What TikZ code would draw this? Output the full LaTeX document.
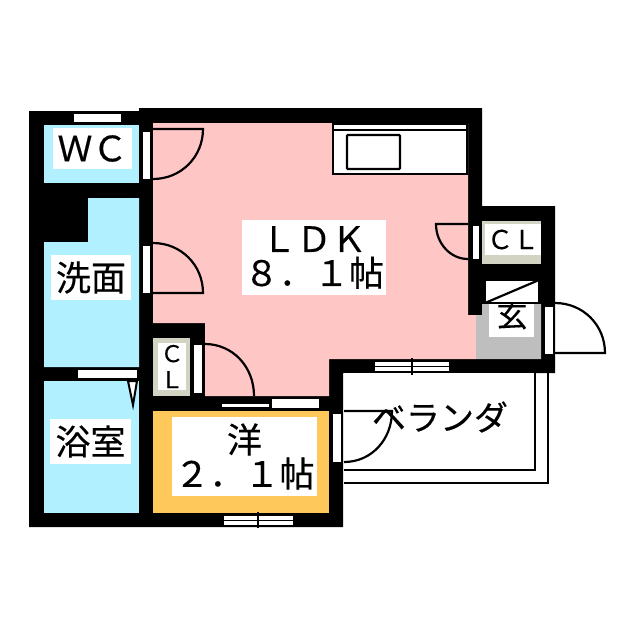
\documentclass[tikz,border=0pt]{standalone}
\usepackage{fontspec}
\setmainfont[FakeBold=0.35]{Noto Sans CJK JP}
\definecolor{ldkpink}{HTML}{FFC6C6}
\definecolor{wetblue}{HTML}{B0F0FF}
\definecolor{yoyellow}{HTML}{FFC85A}
\definecolor{genkangrey}{HTML}{BEBEBE}
\definecolor{clbeige}{HTML}{D3D3C3}
\tikzset{
	roomlabel/.style={fill=white,inner sep=0pt,align=center,font=\fontsize{35}{34}\selectfont},
	smalllabel/.style={fill=white,inner sep=0pt,align=center,font=\fontsize{23}{26}\selectfont},
	plainline/.style={draw=black,line width=2.2pt},
	leaf/.style={fill=white},
}
\begin{document}
\begin{tikzpicture}[x=1pt,y=-1pt]

	\useasboundingbox (0,0) rectangle (640,640);
	\fill[white] (0,0) rectangle (640,640);

	\fill[black] (29,111) -- (139,111) -- (139,108) -- (482,108) -- (482,206) -- (555,206) -- (555,373) -- (343,373) -- (343,527) -- (29,527) -- cycle;

	\fill[ldkpink] (153,123) -- (468,123) -- (468,315) -- (476,315) -- (476,359) -- (329,359) -- (329,396) -- (205,396) -- (205,323) -- (153,323) -- cycle;
	\fill[wetblue] (44,125) rectangle (139,183);
	\fill[wetblue] (88,198) -- (139,198) -- (139,367) -- (44,367) -- (44,242) -- (88,242) -- cycle;
	\fill[wetblue] (44,381) rectangle (139,513);
	\fill[yoyellow] (153,411) rectangle (329,513);
	\fill[genkangrey] (482,304) -- (541,304) -- (541,359) -- (476,359) -- (476,315) -- (482,315) -- cycle;
	\fill[clbeige] (153,338) rectangle (190,396);
	\fill[clbeige] (482,221) rectangle (541,264);
	\fill[white] (344,373) rectangle (535,470);
	\fill[white] (489,304) rectangle (534,337);

	\node[roomlabel,minimum width=79pt,minimum height=41pt] (wc) at (92.5,148.5) {ＷＣ};
	\node[roomlabel,minimum width=80pt,minimum height=45pt] (senmen) at (91,277.5) {洗面};
	\node[roomlabel,minimum width=81pt,minimum height=45pt] (yokushitsu) at (90.5,441.5) {浴室};
	\node[roomlabel,minimum width=144pt,minimum height=75pt] (ldk) at (314,257.5) {ＬＤＫ\\８．１帖};
	\node[roomlabel,minimum width=145pt,minimum height=79pt] (yo) at (244.5,456.5) {洋\\２．１帖};
	\node[smalllabel,minimum width=28pt,minimum height=47pt] (clwest) at (172,366.5) {Ｃ\\Ｌ};
	\node[smalllabel,font=\fontsize{26}{27}\selectfont,minimum width=56pt,minimum height=31pt] (cleast) at (513,239.5) {ＣＬ};
	\node[font=\fontsize{31}{32}\selectfont,inner sep=0pt] (genkan) at (512,315) {玄};
	\node[font=\fontsize{34}{35}\selectfont,inner sep=0pt] (beranda) at (440,417) {ベランダ};

	\fill[white] (74,114) rectangle (121,122);
	\fill[white] (78,370) rectangle (137,378);
	\filldraw[fill=white,draw=black,line width=2pt] (128,381) -- (137,381) -- (133,405) -- cycle;
	\fill[white] (222,404) rectangle (269,407);
	\fill[white] (272,399) rectangle (319,408);

	\filldraw[leaf] (142,131) rectangle (150,179);
	\filldraw[leaf] (142,245) rectangle (150,293);
	\filldraw[leaf] (193,344) rectangle (202,393);
	\filldraw[leaf] (332,413) rectangle (341,462);
	\filldraw[leaf] (472,225) rectangle (479,259);
	\filldraw[leaf] (544,306) rectangle (553,354);

	\draw[plainline] (153,129) -- (203,129) .. controls (203,157) and (181,179) .. (153,179);
	\draw[plainline] (153,293) -- (203,293) .. controls (203,265) and (181,243) .. (153,243);
	\draw[plainline] (205,344) .. controls (232,344) and (254,366) .. (254,396);
	\draw[plainline] (344,411) -- (392,411) .. controls (392,439) and (372,462) .. (344,462);
	\draw[plainline] (468,224) -- (436,224) .. controls (436,243) and (450,259) .. (468,259);
	\draw[plainline] (555,303) .. controls (583,303) and (605,325) .. (605,353) -- (555,353);

	\draw[plainline] (344,470) -- (535,470) -- (535,373);
	\draw[plainline] (344,483) -- (548,483) -- (548,373);

	\filldraw[fill=white,draw=black,line width=2pt] (333,124) rectangle (467,174);
	\draw[plainline] (333,130) -- (467,130);
	\draw[plainline,rounded corners=1pt] (347,135) rectangle (400,169);

	\filldraw[fill=white,draw=black,line width=2pt] (485,280) rectangle (539,303);
	\draw[plainline] (485,303) -- (539,280);

	\fill[white] (224,516) rectangle (293,525);
	\draw[black,line width=1.5pt] (224,520.5) -- (293,520.5);
	\draw[black,line width=1.5pt] (258,512) -- (258,528);
	\fill[white] (375,362) rectangle (449,371);
	\draw[black,line width=1.5pt] (375,366.5) -- (449,366.5);
	\draw[black,line width=1.5pt] (412,358) -- (412,375);

\end{tikzpicture}
\end{document}
